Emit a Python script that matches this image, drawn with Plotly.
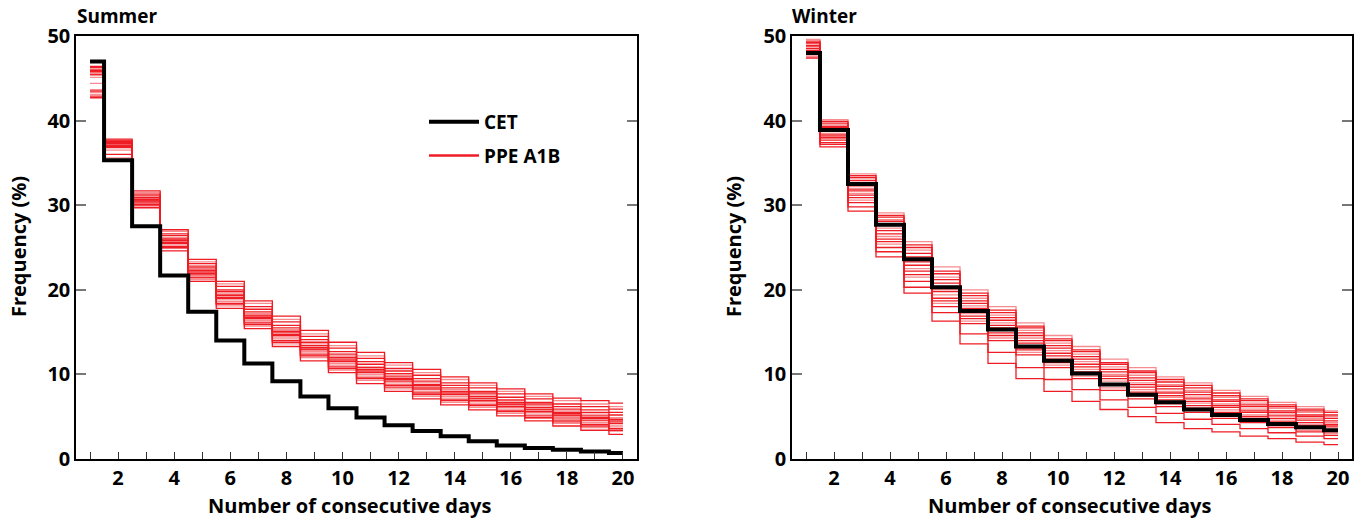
import plotly.graph_objects as go

# Run length (days) on the x axis
days = list(range(1, 21))

# CET observed frequency (%) of runs of n consecutive days
cet_summer = [47.0, 35.3, 27.5, 21.7, 17.4, 14.0, 11.3, 9.2, 7.4, 6.0,
              4.9, 4.0, 3.3, 2.7, 2.1, 1.6, 1.3, 1.1, 0.9, 0.7]
cet_winter = [48.0, 38.9, 32.5, 27.7, 23.6, 20.3, 17.5, 15.3, 13.3, 11.6,
              10.1, 8.8, 7.6, 6.7, 5.85, 5.2, 4.6, 4.15, 3.75, 3.4]

# PPE A1B ensemble members, summer
ppe_summer = [
    [46.4, 36.0, 29.7, 24.6, 21.0, 17.8, 15.4, 13.3, 11.6, 10.2, 8.9, 8.0, 7.1, 6.4, 5.8, 5.1, 4.5, 3.9, 3.4, 2.9],
    [46.2, 35.6, 29.9, 24.9, 21.2, 18.1, 15.7, 13.6, 12.0, 10.5, 9.3, 8.3, 7.4, 6.7, 6.1, 5.4, 4.8, 4.2, 3.7, 3.3],
    [46.0, 36.8, 30.1, 25.1, 21.5, 18.4, 16.1, 14.0, 12.3, 10.9, 9.6, 8.7, 7.8, 7.0, 6.4, 5.7, 5.1, 4.6, 4.1, 3.6],
    [45.9, 37.0, 30.0, 25.0, 21.4, 18.3, 15.9, 13.8, 12.2, 10.7, 9.5, 8.5, 7.6, 6.9, 6.3, 5.6, 4.9, 4.4, 3.9, 3.4],
    [45.7, 37.2, 30.3, 25.4, 21.8, 18.8, 16.4, 14.4, 12.7, 11.3, 10.0, 9.0, 8.2, 7.4, 6.8, 6.1, 5.5, 4.9, 4.5, 4.0],
    [45.5, 37.5, 30.4, 25.5, 21.9, 19.0, 16.6, 14.6, 12.9, 11.5, 10.2, 9.2, 8.3, 7.6, 6.9, 6.2, 5.6, 5.1, 4.6, 4.2],
    [45.4, 37.3, 30.6, 25.8, 22.2, 19.3, 16.9, 14.9, 13.2, 11.8, 10.6, 9.5, 8.7, 7.9, 7.2, 6.5, 5.9, 5.4, 4.9, 4.6],
    [44.4, 37.6, 30.8, 26.0, 22.4, 19.6, 17.2, 15.3, 13.6, 12.2, 10.9, 9.9, 9.0, 8.2, 7.6, 6.9, 6.3, 5.7, 5.3, 4.9],
    [43.6, 37.8, 31.1, 26.4, 22.8, 20.0, 17.7, 15.8, 14.1, 12.7, 11.5, 10.4, 9.5, 8.7, 8.0, 7.3, 6.7, 6.2, 5.8, 5.5],
    [43.4, 37.4, 31.3, 26.6, 23.1, 20.4, 18.0, 16.2, 14.5, 13.1, 11.9, 10.7, 9.9, 9.0, 8.4, 7.7, 7.1, 6.5, 6.2, 5.9],
    [43.1, 37.7, 31.5, 26.9, 23.3, 20.7, 18.4, 16.5, 14.8, 13.4, 12.2, 11.1, 10.2, 9.4, 8.7, 8.0, 7.4, 6.9, 6.5, 6.2],
    [42.9, 37.6, 31.7, 27.1, 23.6, 21.0, 18.7, 16.9, 15.2, 13.8, 12.6, 11.4, 10.6, 9.7, 9.0, 8.3, 7.7, 7.2, 6.9, 6.6],
    [42.7, 37.1, 30.9, 26.1, 22.6, 19.8, 17.4, 15.5, 13.8, 12.4, 11.2, 10.1, 9.2, 8.4, 7.8, 7.0, 6.5, 5.9, 5.5, 5.2],
    [45.1, 36.5, 30.2, 25.2, 21.7, 18.6, 16.2, 14.2, 12.5, 11.1, 9.8, 8.8, 8.0, 7.2, 6.6, 5.9, 5.3, 4.8, 4.3, 3.8],
    [46.3, 37.0, 30.5, 25.6, 22.0, 19.1, 16.7, 14.7, 13.0, 11.6, 10.4, 9.4, 8.5, 7.7, 7.1, 6.4, 5.8, 5.2, 4.8, 4.4],
    [45.8, 36.9, 30.7, 25.9, 22.3, 19.4, 17.0, 15.1, 13.4, 12.0, 10.8, 9.7, 8.8, 8.0, 7.4, 6.7, 6.1, 5.5, 5.1, 4.7],
]

# PPE A1B ensemble members, winter
ppe_winter = [
    [47.4, 36.9, 30.3, 25.0, 21.0, 18.0, 16.0, 14.0, 12.3, 10.8, 9.5, 8.1, 7.1, 6.2, 5.5, 4.8, 4.3, 3.7, 3.2, 2.8],
    [47.6, 37.2, 30.6, 25.4, 21.5, 18.4, 16.3, 14.3, 12.6, 11.1, 9.8, 8.4, 7.4, 6.5, 5.8, 5.1, 4.5, 3.9, 3.4, 3.0],
    [47.8, 37.4, 30.9, 25.7, 21.8, 18.7, 16.6, 14.6, 12.9, 11.4, 10.1, 8.7, 7.7, 6.7, 6.0, 5.3, 4.8, 4.2, 3.7, 3.2],
    [48.0, 37.7, 31.2, 26.0, 22.2, 19.0, 16.9, 14.9, 13.1, 11.6, 10.3, 8.9, 7.9, 7.0, 6.3, 5.5, 5.0, 4.4, 3.9, 3.4],
    [48.2, 37.9, 31.4, 26.3, 22.5, 19.4, 17.2, 15.2, 13.4, 11.9, 10.6, 9.2, 8.2, 7.3, 6.6, 5.8, 5.2, 4.6, 4.1, 3.7],
    [48.3, 38.2, 31.7, 26.6, 22.9, 19.8, 17.5, 15.5, 13.7, 12.2, 10.9, 9.5, 8.5, 7.5, 6.8, 6.1, 5.5, 4.8, 4.3, 3.9],
    [48.5, 38.4, 31.9, 27.0, 23.3, 20.1, 17.8, 15.8, 14.0, 12.5, 11.2, 9.8, 8.8, 7.8, 7.1, 6.3, 5.7, 5.1, 4.6, 4.1],
    [48.6, 38.7, 32.2, 27.3, 23.6, 20.4, 18.1, 16.1, 14.3, 12.8, 11.5, 10.0, 9.0, 8.0, 7.3, 6.5, 5.9, 5.3, 4.8, 4.3],
    [48.8, 39.2, 32.6, 27.8, 23.9, 20.8, 18.4, 16.4, 14.6, 13.1, 11.8, 10.3, 9.3, 8.3, 7.6, 6.8, 6.2, 5.5, 5.0, 4.5],
    [48.9, 39.3, 32.9, 28.1, 24.3, 21.2, 18.7, 16.7, 14.9, 13.4, 12.1, 10.6, 9.6, 8.6, 7.9, 7.0, 6.4, 5.7, 5.2, 4.8],
    [49.1, 39.5, 33.1, 28.3, 24.7, 21.5, 19.0, 17.0, 15.2, 13.7, 12.4, 10.9, 9.9, 8.8, 8.1, 7.3, 6.6, 6.0, 5.5, 5.0],
    [49.2, 39.7, 33.3, 28.6, 25.0, 21.9, 19.3, 17.3, 15.5, 14.0, 12.7, 11.2, 10.2, 9.1, 8.4, 7.5, 6.9, 6.2, 5.7, 5.2],
    [49.4, 39.9, 33.5, 28.8, 25.3, 22.2, 19.6, 17.6, 15.7, 14.2, 12.9, 11.4, 10.4, 9.4, 8.7, 7.8, 7.1, 6.4, 5.9, 5.5],
    [49.6, 40.1, 33.7, 29.1, 25.7, 22.7, 20.0, 18.0, 16.1, 14.6, 13.3, 11.8, 10.8, 9.7, 9.0, 8.1, 7.4, 6.7, 6.2, 5.7],
    [47.9, 37.2, 29.3, 23.9, 19.6, 16.3, 13.6, 11.3, 9.5, 8.0, 6.8, 5.85, 5.0, 4.3, 3.6, 3.2, 2.7, 2.4, 2.0, 1.7],
    [48.1, 38.0, 29.8, 24.5, 20.3, 17.3, 14.8, 12.6, 10.8, 9.4, 8.2, 7.0, 6.1, 5.4, 4.7, 4.1, 3.6, 3.1, 2.7, 2.4],
]

x_ticks = list(range(1, 21))
x_tick_text = [str(d) if d % 2 == 0 else "" for d in x_ticks]
y_ticks = [0, 10, 20, 30, 40, 50]

RED = "#ee1c24"
FONT = "Open Sans"
W, H = 1364, 522

fig = go.Figure()

panels = [
    ("x", "y", ppe_summer, cet_summer),
    ("x2", "y2", ppe_winter, cet_winter),
]
for p, (xa, ya, members, cet) in enumerate(panels):
    for i, member in enumerate(members):
        fig.add_trace(go.Scatter(
            x=days, y=member, xaxis=xa, yaxis=ya, mode="lines",
            line=dict(color=RED, width=1.3, shape="hvh"),
            opacity=1.0 if i % 3 != 1 else 0.5,
            name="PPE A1B", legendgroup="ppe",
            showlegend=False, hoverinfo="skip",
        ))
    fig.add_trace(go.Scatter(
        x=days, y=cet, xaxis=xa, yaxis=ya, mode="lines",
        line=dict(color="black", width=4, shape="hvh"),
        name="CET", legendgroup="cet", showlegend=(p == 0),
    ))

# legend entry for the ensemble (drawn once, no visible data)
fig.add_trace(go.Scatter(
    x=[None], y=[None], mode="lines", line=dict(color=RED, width=2.5),
    name="PPE A1B", legendgroup="ppe", showlegend=True,
))

left_dom = [76 / W, 637 / W]
right_dom = [792 / W, 1352 / W]
y_dom = [1 - 459 / H, 1 - 36 / H]

xcommon = dict(
    range=[0.5, 20.5], tickmode="array", tickvals=x_ticks, ticktext=x_tick_text,
    ticks="inside", ticklen=7, tickwidth=1.2, tickcolor="#333",
    showline=True, linecolor="black", linewidth=2, mirror=True,
    showgrid=False, zeroline=False, automargin=False,
    tickfont=dict(family=FONT, size=20, color="black", weight="bold"),
)
ycommon = dict(
    range=[0, 50], tickmode="array", tickvals=y_ticks,
    ticks="inside", ticklen=10, tickwidth=1.6, tickcolor="#777",
    showline=True, linecolor="black", linewidth=1.5, mirror="ticks",
    showgrid=False, zeroline=False, automargin=False,
    tickfont=dict(family=FONT, size=20, color="black", weight="bold"),
)

fig.update_layout(
    width=W, height=H, margin=dict(l=0, r=0, t=0, b=0, autoexpand=False),
    paper_bgcolor="white", plot_bgcolor="white",
    xaxis=dict(domain=left_dom, anchor="y", **xcommon),
    yaxis=dict(domain=y_dom, anchor="x", **ycommon),
    xaxis2=dict(domain=right_dom, anchor="y2", **xcommon),
    yaxis2=dict(domain=y_dom, anchor="x2", **ycommon),
    legend=dict(
        x=424 / W, y=1 - 103 / H, xanchor="left", yanchor="top",
        bgcolor="rgba(0,0,0,0)", borderwidth=0,
        font=dict(family=FONT, size=19, color="black", weight="bold"),
        itemwidth=50, tracegroupgap=6,
    ),
    showlegend=True,
)

annotations = [
    dict(text="<b>Summer</b>", x=75 / W, y=1 - 16 / H),
    dict(text="<b>Winter</b>", x=790 / W, y=1 - 16 / H),
]
for a in annotations:
    a.update(xref="paper", yref="paper", xanchor="left", yanchor="middle",
             showarrow=False, font=dict(family=FONT, size=19, color="black"))
for cx in (349 / W, 1069 / W):
    annotations.append(dict(
        text="<b>Number of consecutive days</b>", x=cx, y=1 / H,
        xref="paper", yref="paper", xanchor="center", yanchor="bottom",
        showarrow=False, font=dict(family=FONT, size=20, color="black")))
for cx in (18 / W, 733 / W):
    annotations.append(dict(
        text="<b>Frequency (%)</b>", x=cx, y=1 - 247 / H, textangle=-90,
        xref="paper", yref="paper", xanchor="center", yanchor="middle",
        showarrow=False, font=dict(family=FONT, size=20, color="black")))
fig.update_layout(annotations=annotations)

fig.write_html("out.html")
